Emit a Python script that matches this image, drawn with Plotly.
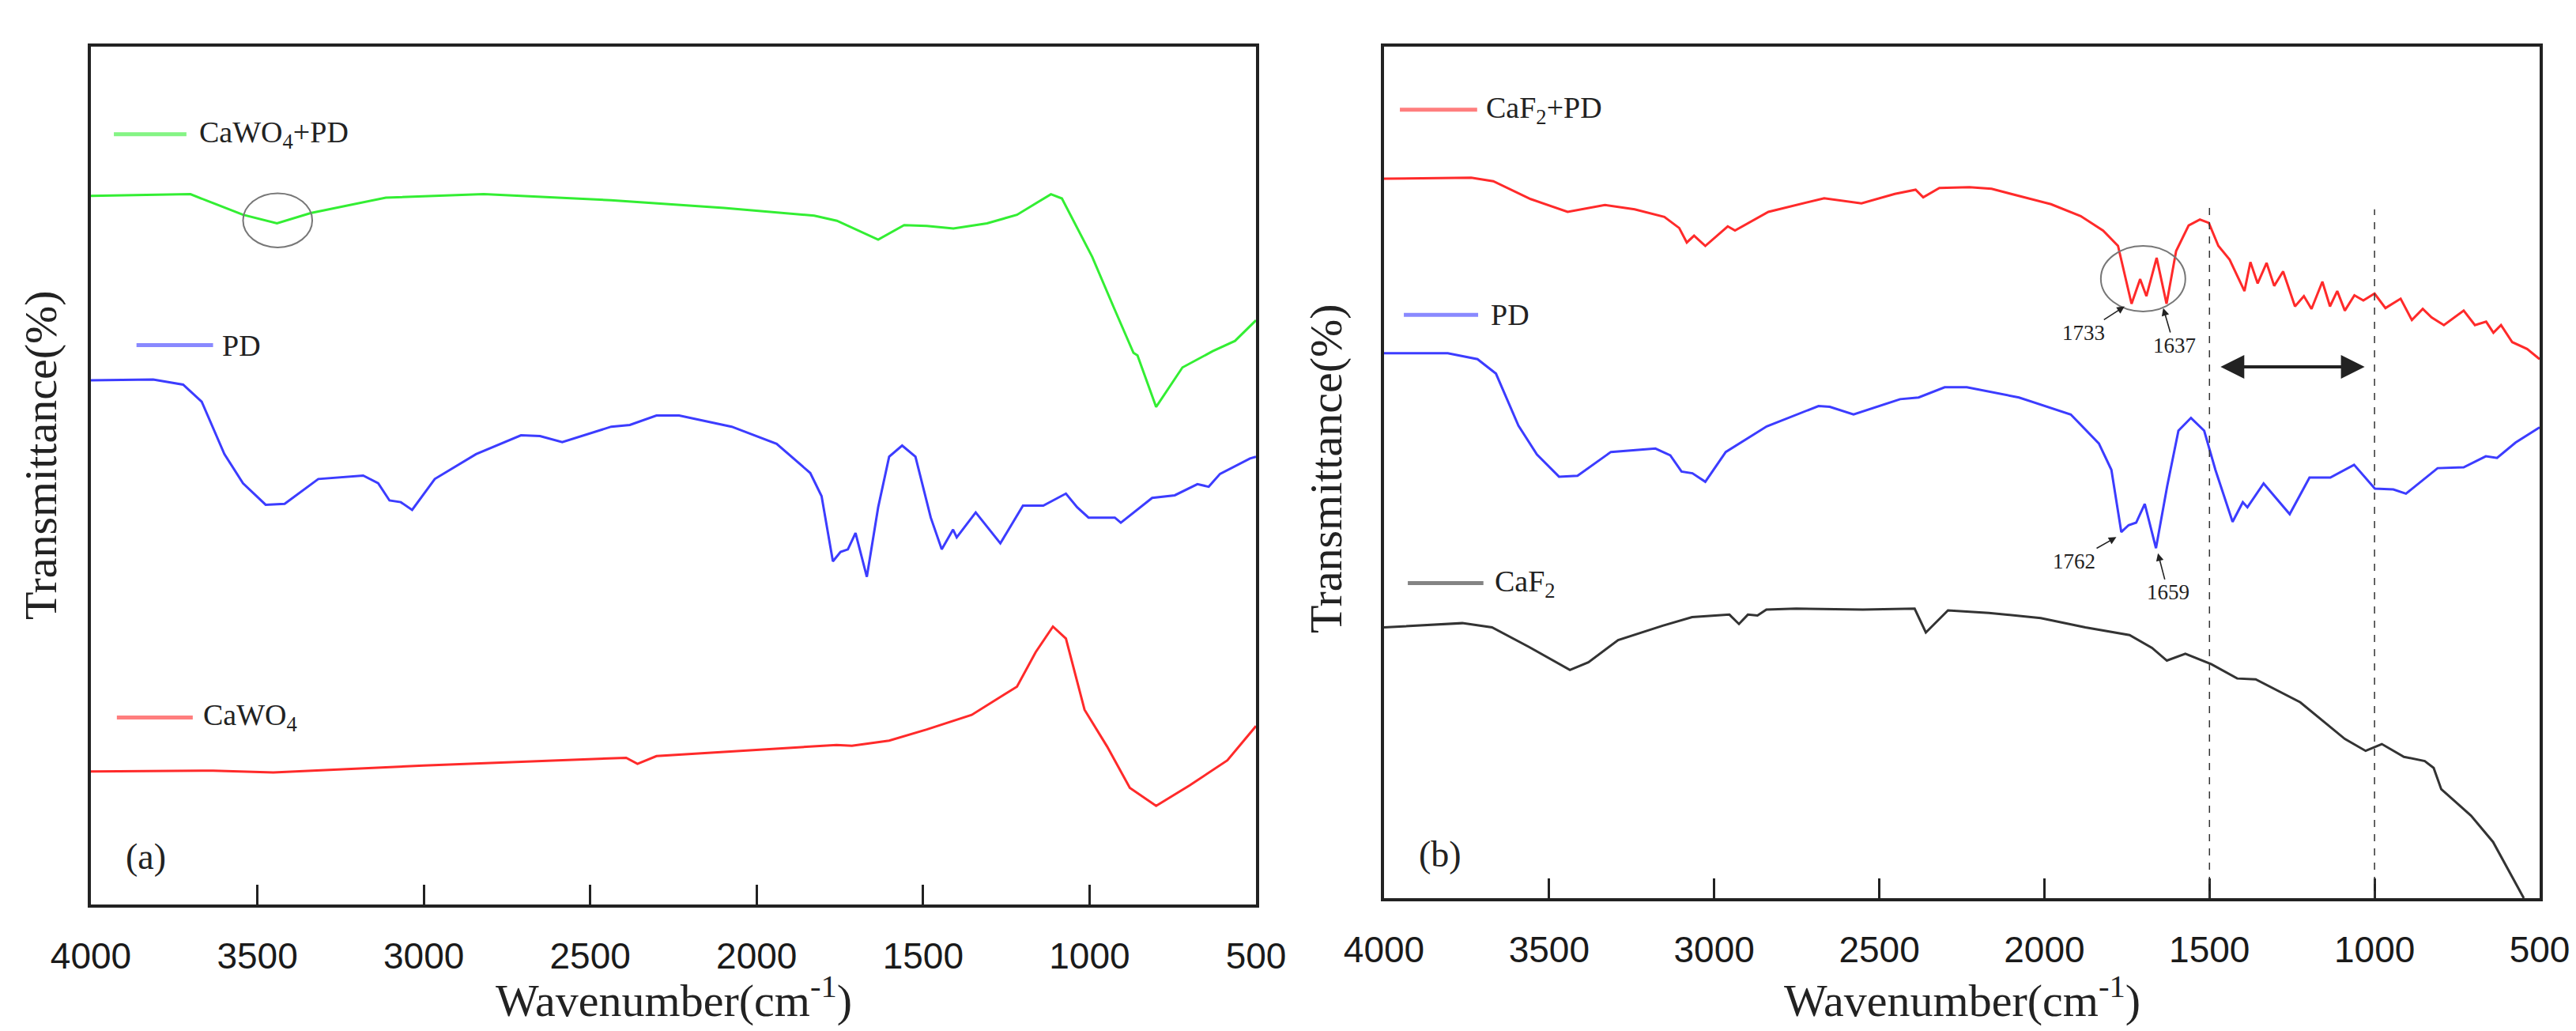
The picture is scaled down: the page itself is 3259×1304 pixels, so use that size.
import plotly.graph_objects as go

W, H = 3259, 1304

# ---------------- Panel (a) data ----------------
wn_a_cawo4_pd = [4000, 3701, 3543, 3441, 3340, 3114, 2820, 2438, 2098, 1827, 1759, 1635,
                 1557, 1489, 1409, 1308, 1218, 1116, 1083, 992, 925, 868, 856, 800, 721,
                 630, 563, 500]
t_a_cawo4_pd = [82.6, 82.8, 80.4, 79.4, 80.6, 82.4, 82.8, 82.1, 81.2, 80.3, 79.7, 77.5,
                79.2, 79.1, 78.8, 79.4, 80.4, 82.8, 82.3, 75.5, 69.4, 64.3, 64.0, 58.0, 62.6,
                64.5, 65.7, 68.1]

wn_a_pd = [4000, 3813, 3723, 3667, 3599, 3543, 3475, 3418, 3317, 3182, 3137, 3103, 3069,
           3035, 2967, 2843, 2708, 2651, 2584, 2437, 2381, 2301, 2233, 2075, 1940, 1839,
           1805, 1771, 1748, 1726, 1703, 1669, 1635, 1602, 1563, 1523, 1477, 1444, 1410,
           1399, 1342, 1268, 1200, 1139, 1071, 1037, 1003, 924, 906, 812, 744, 676, 642,
           608, 518, 500]
t_a_pd = [61.1, 61.2, 60.6, 58.6, 52.5, 49.1, 46.6, 46.7, 49.6, 50.0, 49.1, 47.1, 46.9,
          46.0, 49.6, 52.5, 54.7, 54.6, 53.9, 55.7, 55.9, 57.0, 57.0, 55.7, 53.7, 50.3,
          47.6, 40.0, 41.1, 41.4, 43.3, 38.2, 46.3, 52.2, 53.5, 52.2, 45.1, 41.4, 43.7,
          42.8, 45.7, 42.1, 46.5, 46.5, 47.9, 46.3, 45.1, 45.1, 44.5, 47.4, 47.7, 49.0,
          48.7, 50.2, 52.0, 52.2]

wn_a_cawo4 = [4000, 3633, 3452, 3001, 2392, 2358, 2301, 1760, 1714, 1602, 1489, 1354,
              1218, 1162, 1110, 1071, 1015, 947, 879, 800, 699, 586, 500]
t_a_cawo4 = [15.5, 15.6, 15.4, 16.2, 17.1, 16.4, 17.3, 18.6, 18.5, 19.1, 20.4, 22.1,
             25.4, 29.4, 32.4, 31.0, 22.7, 18.4, 13.6, 11.5, 13.9, 16.8, 20.8]

# ---------------- Panel (b) data ----------------
wn_b_caf2_pd = [4000, 3736, 3669, 3556, 3444, 3331, 3241, 3151, 3106, 3083, 3061, 3027,
                2959, 2937, 2836, 2745, 2667, 2554, 2453, 2390, 2367, 2318, 2227, 2160,
                1980, 1890, 1822, 1777, 1736, 1710, 1691, 1660, 1630, 1601, 1563, 1529,
                1502, 1473, 1439, 1394, 1376, 1354, 1327, 1304, 1277, 1241, 1214, 1191,
                1158, 1135, 1113, 1090, 1061, 1034, 1000, 967, 921, 887, 854, 827, 790,
                730, 696, 662, 640, 617, 583, 538, 500]
t_b_caf2_pd = [84.5, 84.6, 84.2, 82.1, 80.6, 81.4, 80.9, 80.0, 78.7, 77.0, 77.8, 76.6,
               78.9, 78.4, 80.6, 81.5, 82.2, 81.6, 82.7, 83.2, 82.3, 83.4, 83.5, 83.3,
               81.5, 80.1, 78.4, 76.6, 69.8, 72.7, 70.7, 75.2, 69.8, 76.0, 79.0, 79.7,
               79.3, 76.6, 75.0, 71.3, 74.7, 72.2, 74.6, 71.9, 73.6, 69.5, 70.7, 69.2,
               72.4, 69.5, 71.3, 69.0, 70.8, 70.2, 71.0, 69.3, 70.4, 67.9, 69.2, 68.2, 67.3,
               69.0, 67.3, 67.7, 66.4, 67.3, 65.3, 64.5, 63.3]

wn_b_pd = [4000, 3807, 3717, 3661, 3593, 3537, 3470, 3414, 3313, 3178, 3133, 3099, 3066,
           3027, 2965, 2841, 2684, 2650, 2578, 2437, 2381, 2302, 2235, 2077, 1920, 1835,
           1797, 1767, 1745, 1722, 1696, 1662, 1628, 1594, 1556, 1516, 1482, 1430, 1399,
           1385, 1336, 1257, 1197, 1134, 1062, 1033, 999, 943, 905, 809, 730, 663, 629,
           573, 500]
t_b_pd = [64.0, 64.0, 63.3, 61.6, 55.5, 52.1, 49.5, 49.6, 52.4, 52.8, 52.0, 50.1, 49.9,
          48.9, 52.4, 55.4, 57.8, 57.7, 56.8, 58.6, 58.8, 60.0, 60.0, 58.8, 56.8, 53.4,
          50.3, 43.0, 43.8, 44.1, 46.3, 41.1, 48.4, 54.9, 56.4, 54.9, 50.3, 44.2, 46.5,
          45.9, 48.7, 45.1, 49.4, 49.4, 50.9, 49.6, 48.1, 48.0, 47.5, 50.5, 50.6, 51.9,
          51.7, 53.5, 55.3]

wn_b_caf2 = [4000, 3763, 3673, 3561, 3437, 3381, 3291, 3156, 3067, 2954, 2925, 2898, 2869,
             2842, 2752, 2550, 2393, 2359, 2292, 2168, 2011, 1876, 1742, 1674, 1629, 1573,
             1495, 1416, 1360, 1225, 1090, 1027, 978, 911, 848, 821, 798, 764, 708, 641,
             548]
t_b_caf2 = [31.8, 32.3, 31.8, 29.5, 26.8, 27.7, 30.3, 32.0, 33.0, 33.3, 32.2, 33.3, 33.2,
            33.9, 34.0, 33.9, 34.0, 31.2, 33.8, 33.5, 32.9, 31.8, 30.9, 29.4, 27.9, 28.7,
            27.5, 25.8, 25.7, 23.0, 18.7, 17.3, 18.1, 16.6, 16.1, 15.3, 12.8, 11.6, 9.7,
            6.6, 0.0]

x_ticks = [4000, 3500, 3000, 2500, 2000, 1500, 1000, 500]
x_tick_labels = [str(v) for v in x_ticks]
dash_lines_b = [1500, 1000]
dash_tops_b = [81.4, 80.9]

GREEN = "#33ee33"
BLUE = "#3c3cff"
RED = "#ff2a2a"
BLACK = "#333333"
SERIF = "Liberation Serif, Times New Roman, serif"
SANS = "Liberation Sans, Arial, sans-serif"

fig = go.Figure()

def add_line(x, y, color, xa, ya):
    fig.add_trace(go.Scatter(x=x, y=y, mode="lines", xaxis=xa, yaxis=ya,
                             line=dict(color=color, width=3),
                             showlegend=False, hoverinfo="skip"))

add_line(wn_a_cawo4_pd, t_a_cawo4_pd, GREEN, "x", "y")
add_line(wn_a_pd, t_a_pd, BLUE, "x", "y")
add_line(wn_a_cawo4, t_a_cawo4, RED, "x", "y")
add_line(wn_b_caf2_pd, t_b_caf2_pd, RED, "x2", "y2")
add_line(wn_b_pd, t_b_pd, BLUE, "x2", "y2")
add_line(wn_b_caf2, t_b_caf2, BLACK, "x2", "y2")

shapes = []
annotations = []

# in-plot legends (layout positions)
legend_items = [
    ("x", "y", 3931, 3713, 89.8, GREEN, "CaWO<sub>4</sub>+PD", 3679),
    ("x", "y", 3863, 3633, 65.2, BLUE, "PD", 3611),
    ("x", "y", 3922, 3694, 21.8, RED, "CaWO<sub>4</sub>", 3668),
    ("x2", "y2", 3952, 3718, 92.6, RED, "CaF<sub>2</sub>+PD", 3696),
    ("x2", "y2", 3940, 3715, 68.5, BLUE, "PD", 3682),
    ("x2", "y2", 3928, 3699, 37.0, BLACK, "CaF<sub>2</sub>", 3670),
]
for xr, yr, x0, x1, yv, col, txt, xt in legend_items:
    shapes.append(dict(type="line", xref=xr, yref=yr, x0=x0, x1=x1, y0=yv, y1=yv,
                       line=dict(color=col, width=5), opacity=0.6))
    annotations.append(dict(xref=xr, yref=yr, x=xt, y=yv, text=txt, showarrow=False,
                            xanchor="left", yanchor="middle",
                            font=dict(family=SERIF, size=38, color="#222")))

# ellipses
shapes.append(dict(type="circle", xref="x", yref="y", x0=3543, x1=3335, y0=76.6, y1=82.9,
                   line=dict(color="#777", width=2)))
shapes.append(dict(type="circle", xref="x2", yref="y2", x0=1829, x1=1573, y0=68.9, y1=76.6,
                   line=dict(color="#777", width=2)))

# dashed lines
for xv, top in zip(dash_lines_b, dash_tops_b):
    shapes.append(dict(type="line", xref="x2", yref="y2", x0=xv, x1=xv, y0=0, y1=top,
                       line=dict(color="#333", width=1.5, dash="dash")))

# double arrow
annotations.append(dict(xref="x2", yref="y2", axref="x2", ayref="y2",
                        x=1030, y=62.4, ax=1470, ay=62.4, text="",
                        showarrow=True, arrowhead=2, arrowside="end+start",
                        startarrowhead=2, arrowsize=1.5, startarrowsize=1.5,
                        arrowwidth=4, arrowcolor="#222"))

# peak labels: text centred at (tx, ty), arrow pointing at (hx, hy)
peak_labels = [
    ("1733", 1881, 66.4, 1757, 69.5),
    ("1637", 1607, 64.9, 1640, 69.3),
    ("1762", 1910, 39.6, 1782, 42.4),
    ("1659", 1625, 35.9, 1656, 40.5),
]
for txt, tx, ty, hx, hy in peak_labels:
    annotations.append(dict(xref="x2", yref="y2", axref="x2", ayref="y2",
                            x=hx, y=hy, ax=tx, ay=ty, text=txt, showarrow=True,
                            arrowhead=2, arrowsize=1.2, arrowwidth=1.6, arrowcolor="#222",
                            standoff=0, startstandoff=0,
                            font=dict(family=SERIF, size=27, color="#222")))

# panel labels
annotations.append(dict(xref="x", yref="y", x=3836, y=5.6, text="(a)", showarrow=False,
                        font=dict(family=SERIF, size=46, color="#222")))
annotations.append(dict(xref="x2", yref="y2", x=3830, y=5.2, text="(b)", showarrow=False,
                        font=dict(family=SERIF, size=46, color="#222")))

# axis titles
for xc in [844 / W, 2474 / W]:
    annotations.append(dict(xref="paper", yref="paper", x=xc, y=1 - 1253 / H,
                            text="Wavenumber(cm<sup>-1</sup>)", showarrow=False,
                            xanchor="center", yanchor="middle",
                            font=dict(family=SERIF, size=58, color="#222")))
for xc, yc in [(44 / W, 1 - 568 / H), (1669 / W, 1 - 585 / H)]:
    annotations.append(dict(xref="paper", yref="paper", x=xc, y=yc,
                            text="Transmittance(%)", showarrow=False, textangle=-90,
                            xanchor="center", yanchor="middle",
                            font=dict(family=SERIF, size=58, color="#222")))

xaxis_common = dict(range=[4000, 500], tickvals=x_ticks, ticktext=x_tick_labels,
                    ticks="inside", ticklen=25, tickwidth=3, tickcolor="#222",
                    showline=True, linecolor="#222", linewidth=4, mirror=True,
                    showgrid=False, zeroline=False, ticklabelstandoff=22,
                    automargin=False,
                    tickfont=dict(family=SANS, size=46, color="#1a1a1a"))
yaxis_common = dict(range=[0, 100], showticklabels=False, ticks="",
                    showline=True, linecolor="#222", linewidth=4, mirror=True,
                    showgrid=False, zeroline=False, automargin=False)

fig.update_layout(
    width=W, height=H,
    margin=dict(l=0, r=0, t=0, b=0, pad=0, autoexpand=False),
    paper_bgcolor="white", plot_bgcolor="white",
    xaxis=dict(domain=[107 / W, 1581 / W], anchor="y", **xaxis_common),
    yaxis=dict(domain=[1 - 1136 / H, 1 - 51 / H], anchor="x", **yaxis_common),
    xaxis2=dict(domain=[1743 / W, 3205 / W], anchor="y2", **xaxis_common),
    yaxis2=dict(domain=[1 - 1128 / H, 1 - 51 / H], anchor="x2", **yaxis_common),
    shapes=shapes,
    annotations=annotations,
    showlegend=False,
)

fig.write_html("out.html")
